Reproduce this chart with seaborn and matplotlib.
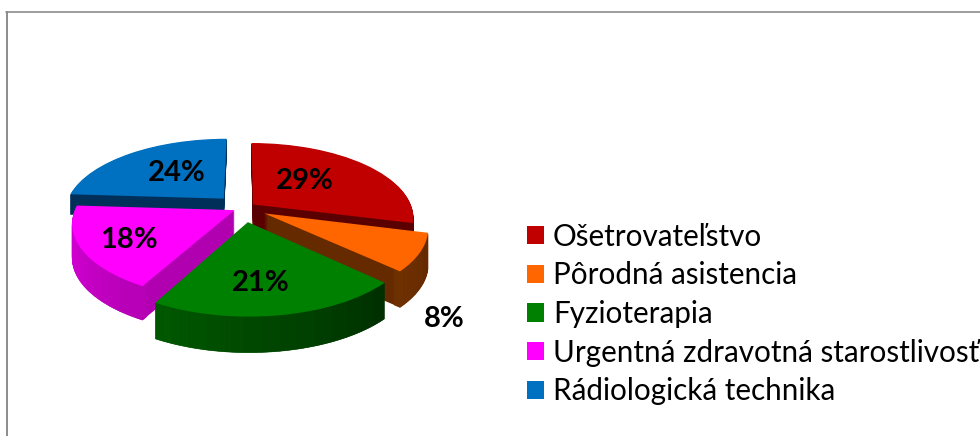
import matplotlib
matplotlib.use("Agg")
import matplotlib.pyplot as plt
from matplotlib.lines import Line2D
from matplotlib.patches import Patch
from matplotlib.transforms import Affine2D, Transform
import numpy as np
import seaborn as sns

# data
labels = ["Ošetrovateľstvo", "Pôrodná asistencia", "Fyzioterapia",
          "Urgentná zdravotná starostlivosť", "Rádiologická technika"]
values = [29, 8, 21, 18, 24]

# styles
colors = ["#C00000", "#FF6600", "#008000", "#FF00FF", "#0070C0"]
inner_colors = ["#5A0000", "#662A00", "#004000", "#B000B0", "#00305A"]
rim_start = ["#5A0000", "#662A00", "#003000", "#B800B8", "#00305A"]
rim_end = ["#5A0000", "#703200", "#005A00", "#E000E0", "#00305A"]
explode = [0.08, 0.15, 0.19, 0.06, 0.18]
depths = [26, 36, 36, 34, 20]
draw_order = [4, 0, 3, 1, 2]
label_px = [(305, 181), (444, 319), (261, 283), (129, 240), (177, 173)]

W, H, R = 980, 436, 159
CX, CY = 243, 208
K, P = 0.459, 0.17
RIM_STEPS = 14

sns.set_theme(style="white")
plt.rcParams["font.family"] = ["Lato", "DejaVu Sans"]


class Tilt(Transform):
    # tilts the flat pie backwards, far side smaller than the near side
    input_dims = output_dims = 2

    def transform_non_affine(self, xy):
        xy = np.asarray(xy, dtype=float)
        w = 1 + P * xy[:, 1]
        return np.column_stack([xy[:, 0] / w, K * xy[:, 1] / w])


fig = plt.figure(figsize=(W / 100, H / 100), dpi=100)
ax = fig.add_axes([0, 0, 1, 1])


def place(wedges, d=0):
    # put a layer on the tilted plane, d pixels down
    for w in wedges:
        w.set_transform(Tilt() + ax.transData + Affine2D().translate(0, -d))


starts = np.cumsum([0] + values[:-1])
for i in draw_order:
    frac = values[i] / 100
    start = 90 - 3.6 * starts[i]
    mid = np.radians(3.6 * (starts[i] + values[i] / 2))
    center = (explode[i] * np.sin(mid), explode[i] * np.cos(mid))
    pieces = [frac / RIM_STEPS] * RIM_STEPS
    shades = sns.blend_palette([rim_start[i], rim_end[i]], RIM_STEPS)
    # side wall, built from the bottom up
    for d in range(depths[i], 0, -1):
        w, _ = ax.pie([frac], colors=[inner_colors[i]], startangle=start, counterclock=False,
                      normalize=False, center=center, wedgeprops={"linewidth": 0})
        place(w, d)
        w, _ = ax.pie(pieces, colors=shades, startangle=start, counterclock=False, normalize=False,
                      center=center, wedgeprops={"width": 0.04, "linewidth": 0.4})
        for piece in w:
            piece.set_edgecolor(piece.get_facecolor())
        place(w, d)
    # top face
    w, _ = ax.pie([frac], colors=[colors[i]], startangle=start, counterclock=False, normalize=False,
                  center=center, wedgeprops={"linewidth": 0})
    place(w)

ax.set_aspect("auto")
ax.set_xlim(-CX / R, (W - CX) / R)
ax.set_ylim((CY - H) / R, CY / R)
ax.set_xticks([])
ax.set_yticks([])
ax.set_frame_on(False)

for v, (px, py) in zip(values, label_px):
    fig.text(px / W, 1 - py / H, f"{v}%", ha="center", va="center", fontsize=21,
             fontweight="bold", color="black")

handles = [Patch(facecolor=c, edgecolor="none", label=l) for c, l in zip(colors, labels)]
fig.legend(handles=handles, loc="center left", bbox_to_anchor=(527 / W, 1 - 314 / H), frameon=False,
           fontsize=21.3, handlelength=0.575, handleheight=0.575, handletextpad=0.3, labelspacing=0.36,
           borderpad=0, borderaxespad=0, labelcolor="black")

# chart border
border = "#8C8C8C"
fig.add_artist(Line2D([6.5 / W, 6.5 / W], [0, 1 - 12.5 / H], color=border, lw=1.4))
fig.add_artist(Line2D([6 / W, 1], [1 - 12.5 / H, 1 - 12.5 / H], color=border, lw=1.2))

fig.savefig("out.png", dpi=100)
